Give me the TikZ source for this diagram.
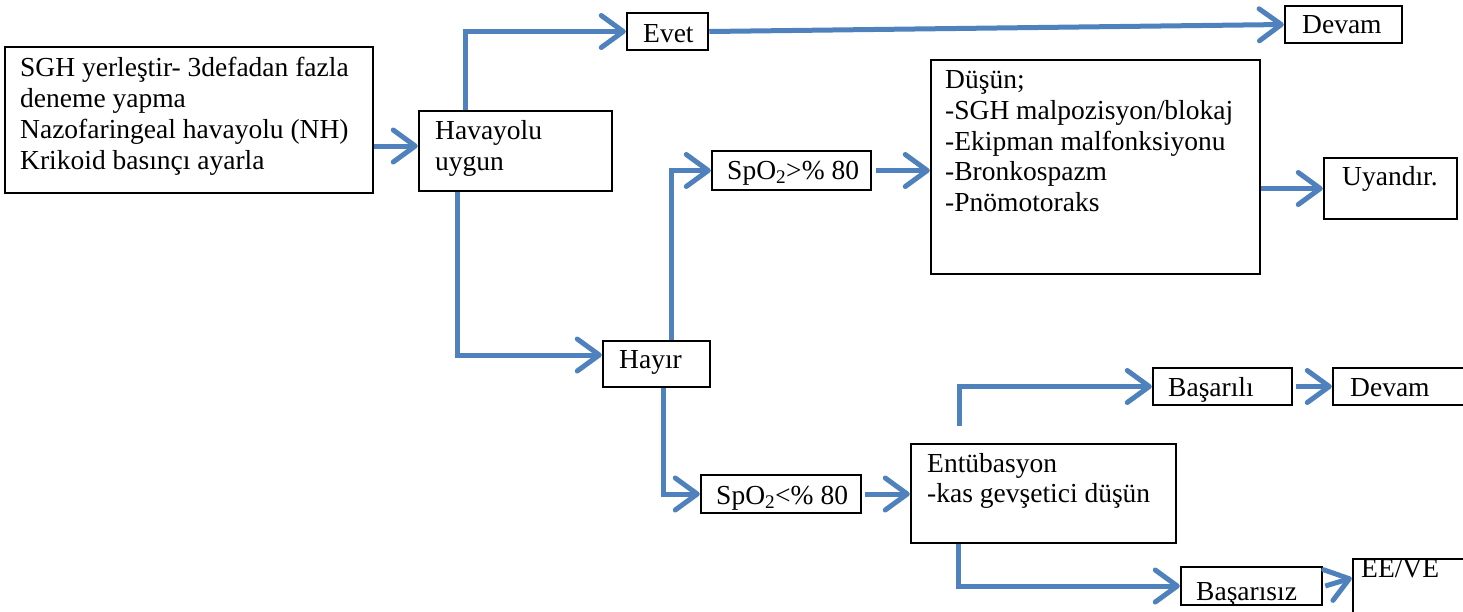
\documentclass[tikz,border=0pt]{standalone}
\usepackage{fontspec}
\setmainfont{Liberation Serif}
\usetikzlibrary{arrows.meta}
\definecolor{flowblue}{RGB}{79,129,189}
\tikzset{
  box/.style={draw=black, fill=white, line width=2.5pt, inner sep=0pt, shape=rectangle},
  txt/.style={inner sep=0pt, anchor=base west, font=\fontsize{27.5}{30.8}\selectfont},
  arr/.style={draw=flowblue, line width=5pt, -{Straight Barb[length=22pt,width=32pt,round]}},
}
\begin{document}
\begin{tikzpicture}[x=1pt,y=-1pt]
\useasboundingbox (0,0) rectangle (1463,611);
\clip (0,0) rectangle (1463,611);
% boxes
\node[box, minimum width=368pt, minimum height=146pt] (big) at (189,120) {};
\node[box, minimum width=193pt, minimum height=80pt] (hav) at (515.5,151) {};
\node[box, minimum width=81pt, minimum height=37pt] (evet) at (667.5,31.5) {};
\node[box, minimum width=117pt, minimum height=37pt] (dev1) at (1343.5,24.5) {};
\node[box, minimum width=159pt, minimum height=39pt] (spo1) at (791.5,170.5) {};
\node[box, minimum width=329pt, minimum height=214pt] (dus) at (1095.5,167) {};
\node[box, minimum width=133pt, minimum height=61pt] (uyan) at (1390.5,188.5) {};
\node[box, minimum width=107pt, minimum height=46pt] (hay) at (656.5,364) {};
\node[box, minimum width=160pt, minimum height=38pt] (spo2) at (781,494) {};
\node[box, minimum width=265pt, minimum height=99pt] (ent) at (1043.5,493.5) {};
\node[box, minimum width=139pt, minimum height=37pt] (bas1) at (1222.5,386.5) {};
\node[box, minimum width=147pt, minimum height=37pt] (dev2) at (1406.5,386.5) {};
\node[box, minimum width=141pt, minimum height=38pt] (bas2) at (1251.5,586) {};
\node[box, minimum width=127pt, minimum height=66pt] (ee) at (1416.5,592) {};
% texts
\node[txt] (bigt) at (20,76.7) {\vtop{\hbox{SGH yerleştir- 3defadan fazla}\hbox{deneme yapma}\hbox{Nazofaringeal havayolu (NH)}\hbox{Krikoid basınçı ayarla}}};
\node[txt] (havt) at (435,139.3) {\vtop{\hbox{Havayolu}\hbox{uygun}}};
\node[txt] (evett) at (643,42.7) {Evet};
\node[txt] (dev1t) at (1302,33.5) {Devam};
\node[txt] (spo1t) at (727,179) {SpO\textsubscript{2}>\% 80};
\node[txt] (dust) at (945,88.5) {\vtop{\hbox{Düşün;}\hbox{-SGH malpozisyon/blokaj}\hbox{-Ekipman malfonksiyonu}\hbox{-Bronkospazm}\hbox{-Pnömotoraks}}};
\node[txt] (uyant) at (1342,185) {Uyandır.};
\node[txt] (hayt) at (619,368) {Hayır};
\node[txt] (spo2t) at (716,504) {SpO\textsubscript{2}<\% 80};
\node[txt] (entt) at (927,472) {\vtop{\hbox{Entübasyon}\hbox{-kas gevşetici düşün}}};
\node[txt] (bas1t) at (1168,396) {Başarılı};
\node[txt] (dev2t) at (1350,396) {Devam};
\node[txt] (bas2t) at (1196,600) {Başarısız};
\node[txt] (eet) at (1361,577) {EE/VE};
% connectors
\coordinate (js) at (959,426);
\draw[arr] ([yshift=-26pt]big.east) -- ([yshift=5pt]hav.west);
\draw[arr] ([xshift=-50.5pt]hav.north) |- (evet.west);
\draw[arr] (evet.east) -- (dev1.west);
\draw[arr] ([xshift=-58.5pt]hav.south) |- ([yshift=9pt]hay.west);
\draw[arr] ([xshift=15pt]hay.north) |- (spo1.west);
\draw[arr] ([xshift=4pt]spo1.east) -- (spo1.east -| dus.west);
\draw[arr] (uyan.west -| dus.east) -- (uyan.west);
\draw[arr] ([xshift=6.5pt]hay.south) |- (spo2.west);
\draw[arr] ([xshift=3pt]spo2.east) -- (spo2.east -| ent.west);
\draw[arr] (js) |- (bas1.west);
\draw[arr] ([xshift=3pt]bas1.east) -- (dev2.west);
\draw[arr] ([xshift=-85pt]ent.south) |- (bas2.west);
\draw[arr] ([xshift=2pt]bas2.east) -- ([yshift=14pt]ee.west);
\end{tikzpicture}
\end{document}
